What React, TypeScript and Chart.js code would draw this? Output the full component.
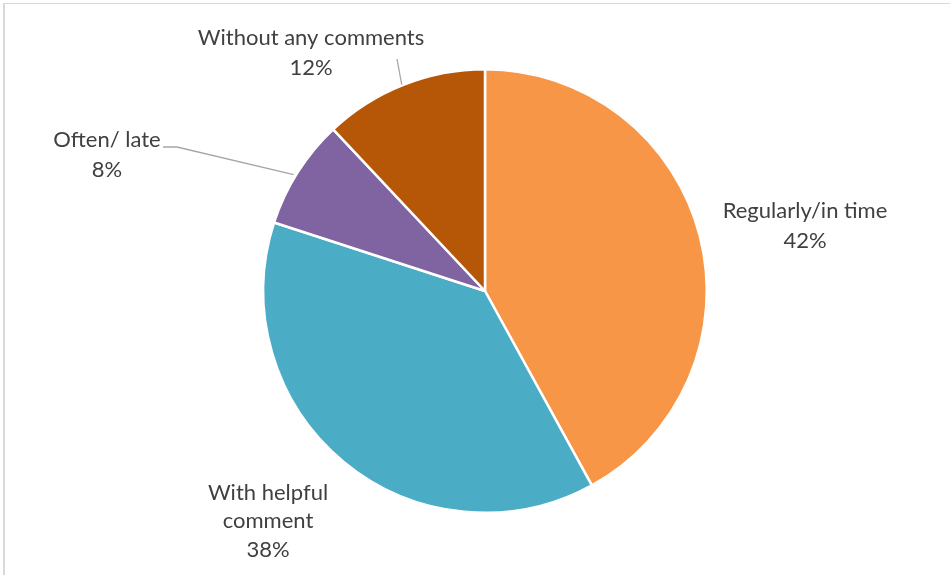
import React, { useEffect, useRef } from "react";
import { Chart, registerables } from "chart.js";

Chart.register(...registerables);

const categories = ["Regularly/in time", "With helpful comment", "Often/ late", "Without any comments"];
const labelLines = [["Regularly/in time"], ["With helpful", "comment"], ["Often/ late"], ["Without any comments"]];
const values = [42, 38, 8, 12];
const colors = ["#F79646", "#4BACC6", "#8064A2", "#B65708"];

// label anchor offsets relative to pie centre (layout only)
const labelOffsets = [
  { dx: 320, dy: -65 },
  { dx: -217, dy: 230 },
  { dx: -378, dy: -136 },
  { dx: -174, dy: -238 },
];

const labelPlugin = {
  id: "pieLabels",
  afterDraw(chart: any) {
    const ctx = chart.ctx;
    const meta = chart.getDatasetMeta(0);
    const total = values.reduce((a, b) => a + b, 0);
    ctx.save();
    ctx.font = "22px Lato, 'Open Sans', sans-serif";
    ctx.fillStyle = "#404040";
    ctx.textAlign = "center";
    ctx.textBaseline = "middle";
    meta.data.forEach((arc: any, i: number) => {
      const { x, y, outerRadius, startAngle, endAngle } = arc.getProps(
        ["x", "y", "outerRadius", "startAngle", "endAngle"],
        true
      );
      const mid = (startAngle + endAngle) / 2;
      const lx = x + labelOffsets[i].dx;
      const ly = y + labelOffsets[i].dy;
      const lines = [...labelLines[i], Math.round((values[i] / total) * 100) + "%"];
      const lh = lines.length > 2 ? 28.5 : 30;
      const top = ly - ((lines.length - 1) * lh) / 2;
      lines.forEach((t, k) => ctx.fillText(t, lx, top + k * lh));
      const ex = x + Math.cos(mid) * (outerRadius - 1);
      const ey = y + Math.sin(mid) * (outerRadius - 1);
      ctx.strokeStyle = "#A6A6A6";
      ctx.lineWidth = 1.3;
      if (i === 2) {
        ctx.beginPath();
        ctx.moveTo(lx + 56, ly - 8);
        ctx.lineTo(lx + 70, ly - 8);
        ctx.lineTo(ex - 5, ey + 2);
        ctx.stroke();
      } else if (i === 3) {
        ctx.beginPath();
        ctx.moveTo(lx + 86, ly + 6);
        ctx.lineTo(ex - 2, ey - 1);
        ctx.stroke();
      }
    });
    ctx.restore();
  },
};

export default function App() {
  const ref = useRef<HTMLCanvasElement>(null);
  useEffect(() => {
    if (!ref.current) return;
    const chart = new Chart(ref.current, {
      type: "pie",
      data: {
        labels: categories,
        datasets: [
          {
            data: values,
            backgroundColor: colors,
            borderColor: "#FFFFFF",
            borderWidth: 2.5,
          },
        ],
      },
      options: {
        animation: false,
        responsive: false,
        maintainAspectRatio: false,
        layout: { padding: { left: 262, right: 242, top: 68, bottom: 61 } },
        plugins: { legend: { display: false }, tooltip: { enabled: false } },
      },
      plugins: [labelPlugin],
    });
    return () => chart.destroy();
  }, []);
  return (
    <div style={{ position: "fixed", left: 0, top: 0, width: 950, height: 575, background: "#fff" }}>
      <div
        style={{
          position: "absolute",
          left: 3,
          top: 3,
          right: -5,
          bottom: -5,
          borderLeft: "2px solid #D9D9D9",
          borderTop: "1px solid #D9D9D9",
        }}
      />
      <canvas ref={ref} width={950} height={575} style={{ position: "absolute", left: 0, top: 0 }} />
    </div>
  );
}
